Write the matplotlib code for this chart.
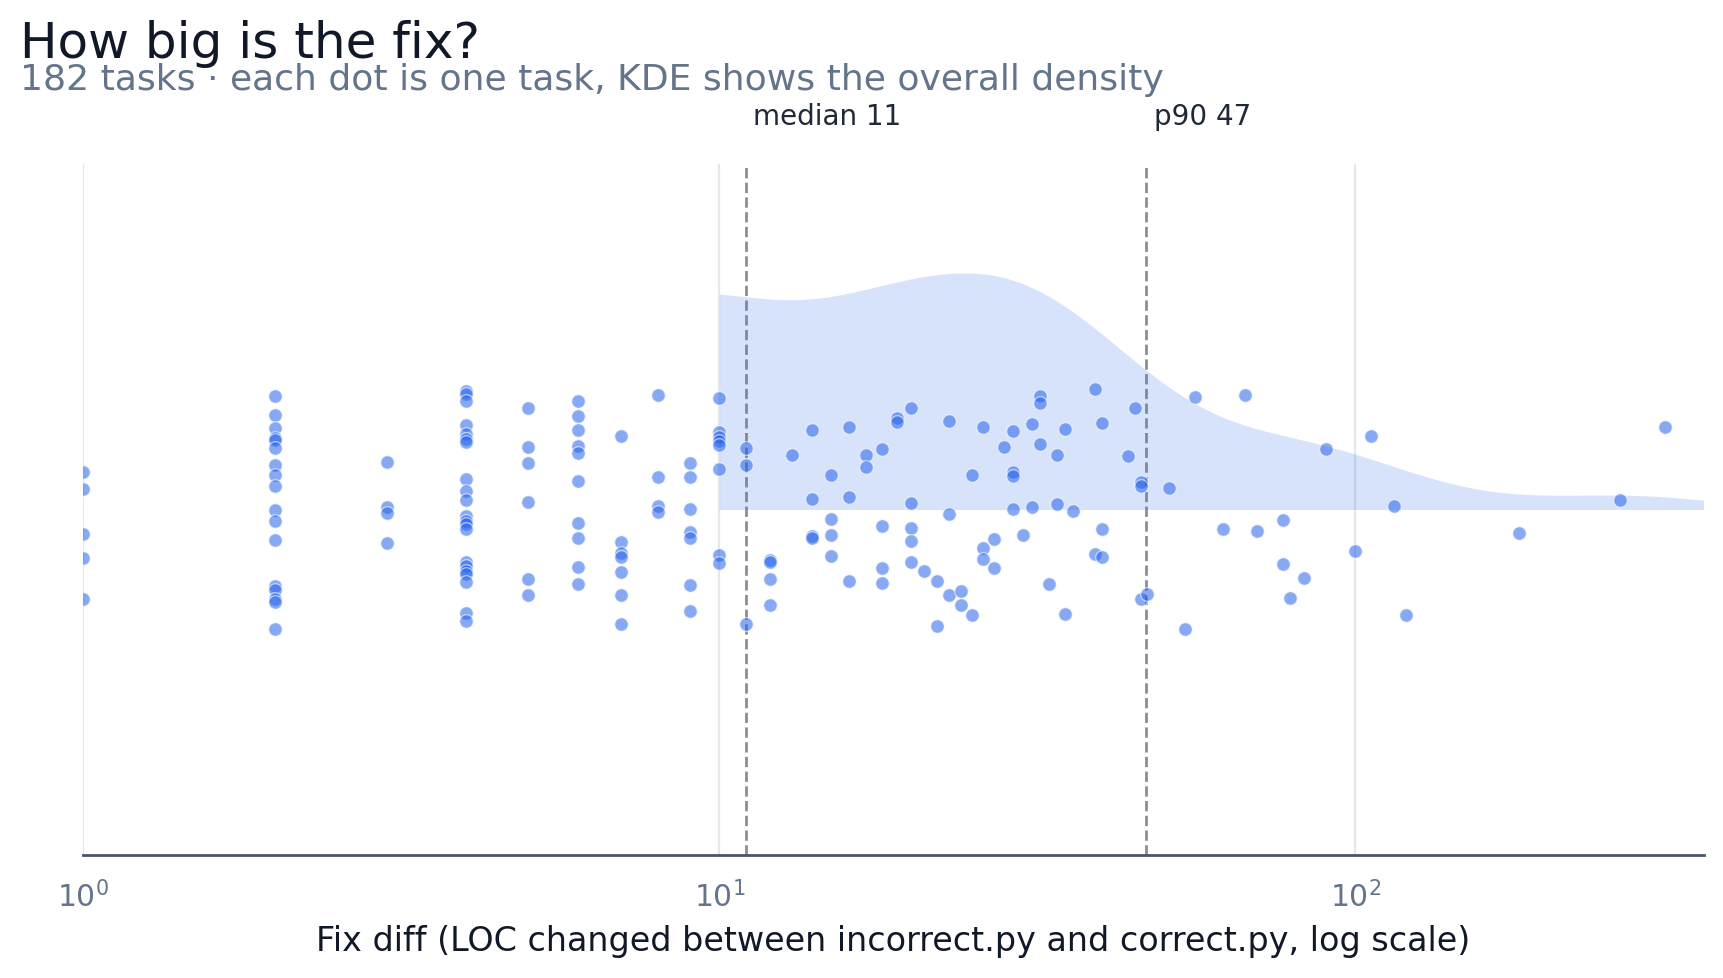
import numpy as np
import matplotlib
matplotlib.use("Agg")
import matplotlib.pyplot as plt

# LOC changed per task (one entry per task) and the vertical jitter used for each dot
fix_loc = [
    1, 1, 1, 1, 1,
    2, 2, 2, 2, 2, 2, 2, 2, 2, 2, 2, 2, 2, 2, 2, 2, 2,
    3, 3, 3, 3,
    4, 4, 4, 4, 4, 4, 4, 4, 4, 4, 4, 4, 4, 4, 4, 4, 4, 4, 4, 4, 4,
    5, 5, 5, 5, 5, 5,
    6, 6, 6, 6, 6, 6, 6, 6, 6, 6,
    7, 7, 7, 7, 7, 7, 7,
    8, 8, 8, 8,
    9, 9, 9, 9, 9, 9, 9,
    10, 10, 10, 10, 10, 10, 10, 10,
    11, 11, 11,
    12, 12, 12, 12,
    13,
    14, 14, 14, 14,
    15, 15, 15, 15,
    16, 16, 16,
    17, 17,
    18, 18, 18, 18,
    19, 19,
    20, 20, 20, 20, 20,
    21,
    22, 22,
    23, 23, 23,
    24, 24,
    25, 25,
    26, 26, 26,
    27, 27,
    28,
    29, 29, 29, 29,
    30,
    31, 31,
    32, 32, 32,
    33,
    34, 34,
    35, 35,
    36,
    39, 39,
    40, 40, 40,
    44, 45,
    46, 46, 46,
    47, 51, 54, 56, 62, 67, 70,
    77, 77,
    79, 83, 90, 100, 106, 115, 120, 181, 261, 307,
]

jitter = [
    0.11, 0.06, -0.07, -0.14, -0.26,
    0.33, 0.275, 0.235, 0.207, 0.20, 0.177, 0.13, 0.10, 0.067, 0.0, -0.034, -0.089,
    -0.222, -0.232, -0.259, -0.267, -0.347,
    0.137, 0.008, -0.01, -0.097,
    0.344, 0.334, 0.315, 0.245, 0.22, 0.204, 0.196, 0.088, 0.053, 0.028, -0.018,
    -0.032, -0.042, -0.055, -0.153, -0.162, -0.177, -0.186, -0.211, -0.298, -0.324,
    0.293, 0.18, 0.134, 0.021, -0.202, -0.248,
    0.313, 0.27, 0.229, 0.183, 0.163, 0.084, -0.04, -0.082, -0.167, -0.216,
    0.212, -0.094, -0.127, -0.136, -0.181, -0.246, -0.332,
    0.331, 0.093, 0.009, -0.008,
    0.134, 0.093, 0.003, -0.066, -0.082, -0.219, -0.295,
    0.323, 0.225, 0.209, 0.199, 0.187, 0.117, -0.131, -0.156,
    0.178, 0.128, -0.332,
    -0.146, -0.153, -0.201, -0.277,
    0.157,
    0.23, 0.03, -0.076, -0.083,
    0.099, -0.028, -0.074, -0.135,
    0.238, 0.036, -0.207,
    0.157, 0.122,
    0.175, -0.048, -0.17, -0.213,
    0.264, 0.252,
    0.293, 0.018, -0.054, -0.092, -0.152,
    -0.178,
    -0.207, -0.337,
    0.255, -0.013, -0.248,
    -0.236, -0.275,
    0.099, -0.306,
    0.238, -0.111, -0.144,
    -0.086, -0.17,
    0.18,
    0.226, 0.109, 0.098, 0.003,
    -0.074,
    0.247, 0.006,
    0.329, 0.308, 0.189,
    -0.216,
    0.157, 0.016,
    0.232, -0.301,
    -0.005,
    0.348, -0.129,
    0.25, -0.055, -0.138,
    0.154, 0.293,
    0.081, 0.067, -0.26,
    -0.245, 0.062, -0.346, 0.326, -0.057, 0.331, -0.063,
    -0.03, -0.158,
    -0.256, -0.199, 0.174, -0.12, 0.212, 0.01, -0.306, -0.069, 0.029, 0.238,
]

loc = np.array(fix_loc, dtype=float)
median = np.median(loc)
p90 = np.percentile(loc, 90)
x_max = loc.max() * 1.15

# KDE in log space (clipped at log10 = 1)
logs = np.log10(loc)
bw = logs.std(ddof=1) * len(logs) ** (-1 / 5) * 0.65
grid = np.linspace(1.0, np.log10(x_max), 300)
dens = np.exp(-0.5 * ((grid[:, None] - logs[None, :]) / bw) ** 2).sum(axis=1)
kde_height = dens / dens.max() * 0.685

fig = plt.figure(figsize=(8.615, 4.895), dpi=200)
fig.patch.set_facecolor("white")
ax = fig.add_axes([0.0484, 0.1256, 0.9403, 0.7058])

ax.fill_between(10 ** grid, 0, kde_height, color="#2563eb", alpha=0.18, linewidth=0, zorder=1)
ax.scatter(loc, jitter, s=24, color="#2563eb", alpha=0.55, edgecolors="white",
           linewidths=0.5, zorder=3)

for val, label in [(median, f"median {median:.0f}"), (p90, f"p90 {p90:.0f}")]:
    ax.axvline(val, color="#6b7280", linestyle="--", linewidth=1.0, alpha=0.8, zorder=2)
    ax.annotate(label, xy=(val, 1), xycoords=("data", "axes fraction"),
                xytext=(2.7, 14.4), textcoords="offset points",
                ha="left", va="baseline", fontsize=10, color="#1f2937")

ax.set_xscale("log")
ax.set_xlim(1, x_max)
ax.set_ylim(-1, 1)
ax.set_yticks([])
ax.tick_params(axis="x", which="major", length=0, pad=9, labelsize=10.7, colors="#64748b")
ax.tick_params(axis="x", which="minor", length=0)
ax.grid(axis="x", which="major", color="#e5e7eb", linewidth=0.8)
ax.set_axisbelow(True)

for spine in ["top", "right", "left"]:
    ax.spines[spine].set_visible(False)
ax.spines["bottom"].set_color("#475569")
ax.spines["bottom"].set_linewidth(1.0)

ax.set_xlabel("Fix diff (LOC changed between incorrect.py and correct.py, log scale)",
              fontsize=12.0, color="#111827", labelpad=4)

fig.text(0.0115, 0.9404, "How big is the fix?", fontsize=18, color="#111827", va="baseline")
fig.text(0.0115, 0.908, "182 tasks · each dot is one task, KDE shows the overall density",
         fontsize=13, color="#64748b", va="baseline")

fig.savefig("out.png", dpi=200, facecolor="white")
plt.close(fig)
